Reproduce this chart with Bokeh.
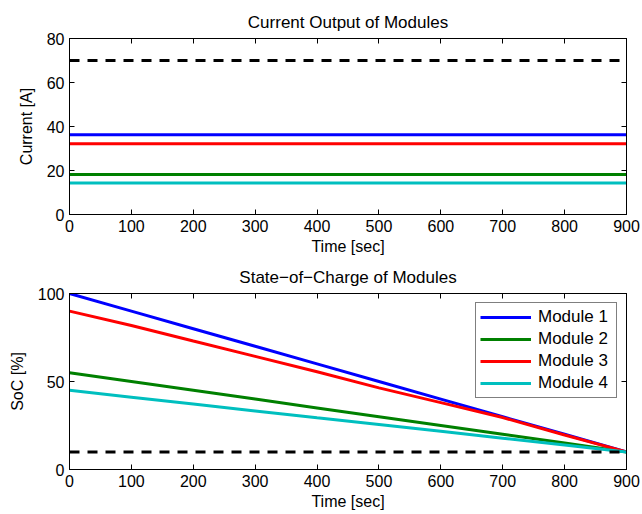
from bokeh.plotting import figure
from bokeh.layouts import column
from bokeh.models import (LinearAxis, FixedTicker, Range1d, Legend, LegendItem,
                          CustomLabelingPolicy)
from bokeh.embed import file_html
from bokeh.resources import INLINE

# ---- data ----
time_s = [0, 100, 200, 300, 400, 500, 600, 700, 800, 900]
module_names = ["Module 1", "Module 2", "Module 3", "Module 4"]
current_m1 = [36.2] * 10
current_m2 = [18.2] * 10
current_m3 = [32.2] * 10
current_m4 = [14.3] * 10
current_limit = [70] * 10
soc_m1 = [100, 90, 80, 70, 60, 50, 40, 30, 20, 10]
soc_m2 = [55, 50, 45, 40, 35, 30, 25, 20, 15, 10]
soc_m3 = [90, 81.8, 73, 64.3, 55.5, 46.4, 38, 29.5, 19.6, 10]
soc_m4 = [45, 41.1, 37.2, 33.3, 29.4, 25.6, 21.7, 17.8, 13.9, 10]
soc_limit = [10] * 10
x_ticks = [0, 100, 200, 300, 400, 500, 600, 700, 800, 900]
cur_ticks = [0, 20, 40, 60, 80]
soc_ticks = [0, 50, 100]

colors = ["#0000ff", "#008000", "#ff0000", "#00bfbf"]
FONT = "Liberation Sans"

HIDE_LABELS = CustomLabelingPolicy(code="""
for (const i of indices) { indices.unset(i) }
return indices
""")


def make_fig(title, ylabel, yr, yticks, top, bottom):
    p = figure(width=642, height=257, output_backend="svg", toolbar_location=None,
               x_range=Range1d(0, 900), y_range=Range1d(*yr),
               min_border_left=69, min_border_right=16,
               min_border_top=top, min_border_bottom=bottom,
               title=title)
    p.title.align = "center"
    p.title.text_font = FONT
    p.title.text_font_size = "17px"
    p.title.text_font_style = "normal"
    p.title.text_color = "black"
    p.title.standoff = 14
    p.xgrid.visible = False
    p.ygrid.visible = False
    p.outline_line_color = "black"
    p.outline_line_width = 1
    p.outline_line_alpha = 1
    p.background_fill_color = "white"
    p.border_fill_color = "white"
    p.add_layout(LinearAxis(), "right")
    p.add_layout(LinearAxis(), "above")
    for ax in p.xaxis:
        ax.ticker = FixedTicker(ticks=x_ticks)
    for ax in p.yaxis:
        ax.ticker = FixedTicker(ticks=yticks)
    for ax in p.axis:
        ax.major_tick_in = 5
        ax.major_tick_out = 0
        ax.minor_tick_line_color = None
        ax.axis_line_color = "black"
        ax.major_tick_line_color = "black"
        ax.major_label_text_font = FONT
        ax.major_label_text_font_size = "16px"
        ax.major_label_text_color = "black"
        ax.major_label_standoff = 5
        ax.axis_label_text_font = FONT
        ax.axis_label_text_font_size = "16px"
        ax.axis_label_text_font_style = "normal"
        ax.axis_label_text_color = "black"
    p.below[0].axis_label = "Time [sec]"
    p.below[0].axis_label_standoff = 3
    p.left[0].axis_label = ylabel
    p.left[0].axis_label_standoff = 9
    for ax in (p.right[0], p.above[0]):
        ax.major_label_policy = HIDE_LABELS
        ax.major_label_text_font_size = "0px"
        ax.major_label_standoff = 0
    return p


p1 = make_fig("Current Output of Modules", "Current [A]", (0, 80), cur_ticks, 38, 43)
for ys, c in zip([current_m1, current_m2, current_m3, current_m4], colors):
    p1.line(time_s, ys, line_color=c, line_width=3)
p1.line(time_s, current_limit, line_color="black", line_width=3, line_dash="10 8")

p2 = make_fig("State\u2212of\u2212Charge of Modules", "SoC [%]", (0, 100), soc_ticks, 36, 45)
renderers = []
for ys, c in zip([soc_m1, soc_m2, soc_m3, soc_m4], colors):
    renderers.append(p2.line(time_s, ys, line_color=c, line_width=3))
p2.line(time_s, soc_limit, line_color="black", line_width=3, line_dash="10 8")

legend = Legend(items=[LegendItem(label=n, renderers=[r]) for n, r in zip(module_names, renderers)],
                location="top_right")
legend.margin = 9
legend.padding = 4
legend.spacing = 2
legend.glyph_width = 51
legend.glyph_height = 18
legend.label_height = 18
legend.label_width = 74
legend.label_standoff = 7
legend.label_text_font = FONT
legend.label_text_font_size = "17px"
legend.label_text_color = "black"
legend.border_line_color = "black"
legend.border_line_width = 1
legend.background_fill_color = "white"
legend.background_fill_alpha = 1
p2.add_layout(legend, "center")

layout = column(p1, p2, spacing=0)
open("out.html", "w").write(file_html(layout, INLINE))
